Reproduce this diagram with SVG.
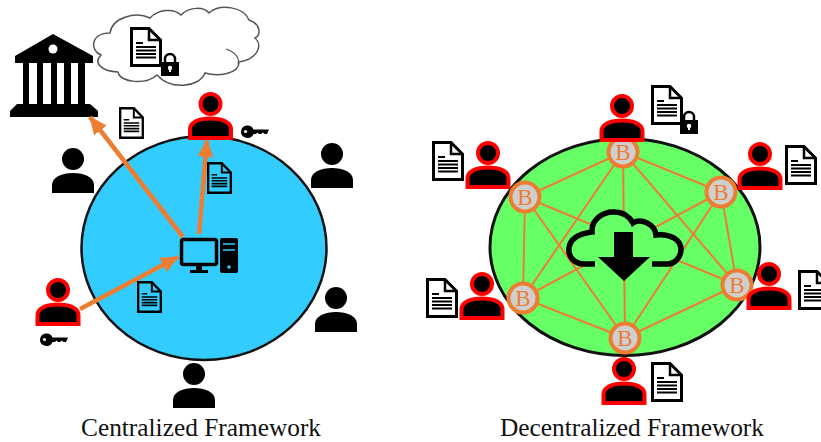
<svg xmlns="http://www.w3.org/2000/svg" width="821" height="442" viewBox="0 0 821 442">
<style>
text{font-family:"Liberation Serif","Times New Roman",serif}
.cap{font-size:24.5px;fill:#111;text-anchor:middle}
.hub{fill:#33CCFF;stroke:#111;stroke-width:2.5}
.hubg{fill:#66FF66;stroke:#111;stroke-width:3}
.arrow{stroke:#ED7D31;stroke-width:4.5;fill:none;marker-end:url(#head)}
.mesh line{stroke:#ED7D31;stroke-width:2}
.b circle{fill:#CFCFCF;stroke:#ED7D31;stroke-width:4}
.b text{font-size:23px;fill:#ED7D31;text-anchor:middle}
.red{stroke:#FF0000;stroke-width:4;fill:#000}
</style>
<defs>
<marker id="head" markerUnits="userSpaceOnUse" markerWidth="18" markerHeight="16" refX="17" refY="8" orient="auto"><path d="M0 0L18 8L0 16Z" fill="#ED7D31"/></marker>
<g id="pk"><circle cx="0" cy="11" r="11"/><path d="M-21 45V37C-21 29-11 25 0 25C11 25 21 29 21 37V45Z"/></g>
<g id="pr" class="red"><circle cx="0" cy="12" r="10"/><path d="M-20.5 46V37C-20.5 30-11 26.500 0 26.500C11 26.500 20.500 30 20.500 37V46Z"/></g>
<g id="doc">
<path d="M1.500 1.500H19L30.500 13V38.500H1.500Z" stroke="#000" stroke-width="3"/>
<path d="M19 1.500V13H30.500" fill="none" stroke="#000" stroke-width="2.500"/>
<path d="M6 16H13M6 20H26M6 23.500H26M6 27H26M6 30.500H26" stroke="#000" stroke-width="2" fill="none"/>
</g>
<g id="lock"><path d="M4 11V7A5 5 0 0 1 14 7V11" fill="none" stroke="#000" stroke-width="2.500"/><rect x="0" y="10" width="18" height="14" fill="#000"/><circle cx="9" cy="16" r="2.200" fill="#fff"/><rect x="8" y="16" width="2" height="4" fill="#fff"/></g>
<g id="key"><path d="M0 6.500A6.500 6.500 0 0 1 12.500 4.500H28L26 9H23.500L22 7.500L20 9H18L16.500 7.500L15 9H12.500A6.500 6.500 0 0 1 0 6.500Z" fill="#000"/><circle cx="4.500" cy="6.500" r="1.600" fill="#fff"/></g>
</defs>

<g id="hub-centralized"><ellipse class="hub" cx="204" cy="248" rx="122.500" ry="112"/></g>
<g id="hub-decentralized"><ellipse class="hubg" cx="625" cy="247" rx="135" ry="108.500"/></g>

<g id="cloud-storage">
<path d="M110 33C112 18 135 11 150 18C158 9 174 8 181 15C190 6 204 7 209 13C220 3 244 7 249 20C261 24 261 35 255 38C263 45 258 59 239 62C239 74 218 77 205 73C199 88 170 90 157 75C146 85 120 83 118 72C101 71 93 63 101 55C90 51 90 33 110 33Z" fill="#fff" stroke="#555" stroke-width="1.500"/>
<path d="M226 49C235 52 240 58 238 64" fill="none" stroke="#555" stroke-width="1.200"/>
<use href="#doc" x="130" y="27" fill="#fff"/>
<use href="#lock" x="161" y="52"/>
</g>

<g id="bank" fill="#000">
<path d="M53 34L93 56V63H15V56Z"/>
<circle cx="53" cy="49" r="4.500" fill="#fff"/>
<rect x="23" y="63" width="6" height="42"/><rect x="37" y="63" width="6" height="42"/><rect x="51" y="63" width="6" height="42"/><rect x="64" y="63" width="7" height="42"/><rect x="78" y="63" width="7" height="42"/>
<path d="M17 104H90L98 111V117H10V111Z"/>
</g>

<g id="computer">
<rect x="181.500" y="239.500" width="35" height="25" rx="2" fill="none" stroke="#000" stroke-width="3.500"/>
<path d="M196 266H202V270H208V273H190V270H196Z" fill="#000"/>
<rect x="220" y="238" width="18" height="35" rx="2" fill="#000"/>
<path d="M223 244H235M223 250H235" stroke="#33CCFF" stroke-width="1.500"/>
<circle cx="229" cy="267" r="1.800" fill="#33CCFF"/>
</g>

<g id="connectors">
<line class="arrow" x1="183" y1="237" x2="90" y2="117"/>
<line class="arrow" x1="199" y1="234" x2="207" y2="140"/>
<line class="arrow" x1="80" y1="309" x2="178" y2="257"/>
<g class="mesh">
<line x1="623" y1="152" x2="525" y2="197"/>
<line x1="623" y1="152" x2="721" y2="192"/>
<line x1="623" y1="152" x2="523" y2="298"/>
<line x1="623" y1="152" x2="737" y2="285"/>
<line x1="623" y1="152" x2="625" y2="338"/>
<line x1="525" y1="197" x2="523" y2="298"/>
<line x1="525" y1="197" x2="737" y2="285"/>
<line x1="525" y1="197" x2="625" y2="338"/>
<line x1="721" y1="192" x2="737" y2="285"/>
<line x1="721" y1="192" x2="523" y2="298"/>
<line x1="721" y1="192" x2="625" y2="338"/>
<line x1="523" y1="298" x2="625" y2="338"/>
<line x1="737" y1="285" x2="625" y2="338"/>
</g>
</g>

<g id="cloud-download">
<path d="M595 264H583C573 263 568 256 569 248C570 240 576 234 592 232C591 220 603 211 615 212C623 212 630 217 633 223C641 218 655 224 656 235C670 233 681 240 681 249C681 258 674 264 668 264H652" fill="#66FF66" stroke="#000" stroke-width="5.500"/>
<path d="M614 232H633V257H650L624 281L598 257H614Z" fill="#000"/>
</g>

<g id="blocks">
<g class="b" id="b1"><circle cx="623" cy="152" r="14.500"/><text x="623" y="160">B</text></g>
<g class="b" id="b2"><circle cx="525" cy="197" r="14.500"/><text x="525" y="205">B</text></g>
<g class="b" id="b3"><circle cx="721" cy="192" r="14.500"/><text x="721" y="200">B</text></g>
<g class="b" id="b4"><circle cx="737" cy="285" r="14.500"/><text x="737" y="293">B</text></g>
<g class="b" id="b5"><circle cx="625" cy="338" r="14.500"/><text x="625" y="346">B</text></g>
<g class="b" id="b6"><circle cx="523" cy="298" r="14.500"/><text x="523" y="306">B</text></g>
</g>

<g id="users-black" fill="#000">
<use id="u1" href="#pk" x="73" y="148"/>
<use id="u2" href="#pk" x="332" y="143"/>
<use id="u3" href="#pk" x="336" y="287"/>
<use id="u4" href="#pk" x="194" y="363"/>
</g>
<g id="users-red">
<use id="r1" href="#pr" x="210.500" y="92"/>
<use id="r2" href="#pr" x="58" y="278"/>
<use id="r3" href="#pr" x="622" y="94"/>
<use id="r4" href="#pr" x="488" y="141"/>
<use id="r5" href="#pr" x="760" y="142"/>
<use id="r6" href="#pr" x="769" y="262"/>
<use id="r7" href="#pr" x="482" y="272"/>
<use id="r8" href="#pr" x="624" y="357"/>
</g>

<g id="documents">
<use href="#doc" transform="translate(119 107) scale(.78 .8)" fill="#fff"/>
<use href="#doc" transform="translate(207 162) scale(.78 .8)" fill="#33CCFF"/>
<use href="#doc" transform="translate(137 281) scale(.78 .8)" fill="#33CCFF"/>
<use href="#doc" x="651" y="85" fill="#fff"/>
<use href="#doc" x="432" y="141" fill="#fff"/>
<use href="#doc" x="785" y="145" fill="#fff"/>
<use href="#doc" x="798" y="270" fill="#fff"/>
<use href="#doc" x="426" y="278" fill="#fff"/>
<use href="#doc" x="651" y="362" fill="#fff"/>
<use href="#lock" x="680" y="110"/>
</g>

<g id="keys">
<use href="#key" x="241" y="125"/>
<use href="#key" x="40" y="333"/>
</g>

<g id="captions">
<text class="cap" x="201" y="436" textLength="240" lengthAdjust="spacingAndGlyphs">Centralized Framework</text>
<text class="cap" x="632" y="436" textLength="264" lengthAdjust="spacingAndGlyphs">Decentralized Framework</text>
</g>
</svg>
